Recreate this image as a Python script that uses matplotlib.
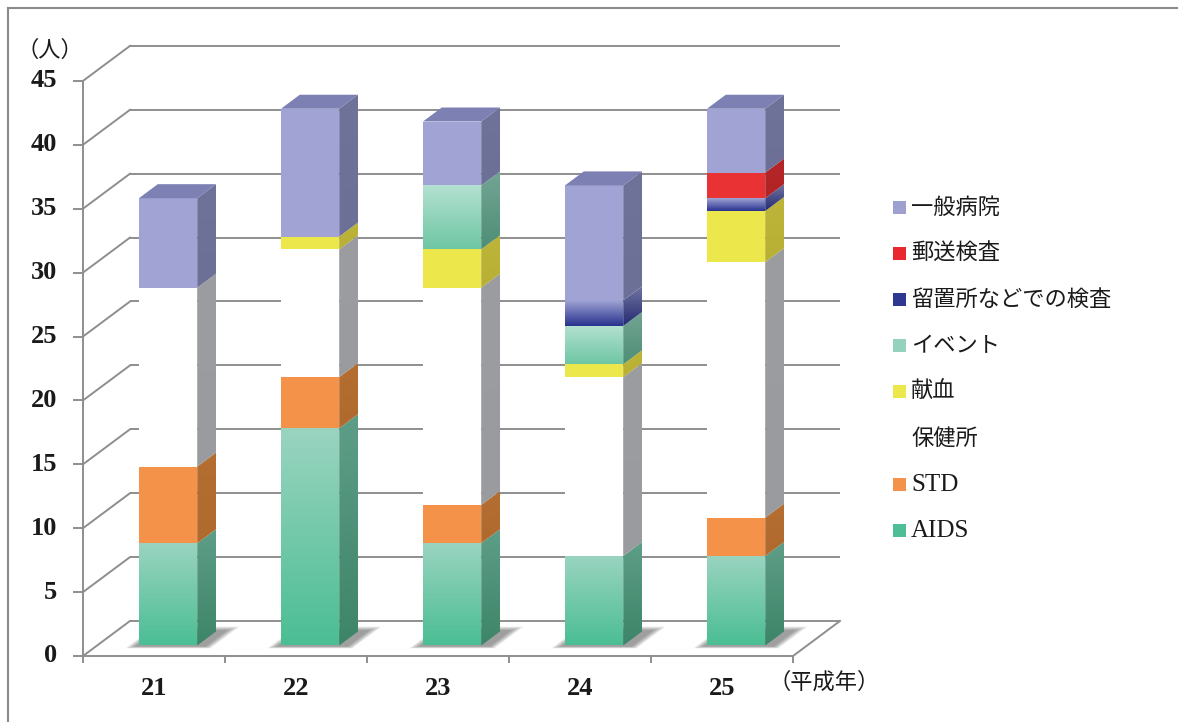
import numpy as np
import matplotlib
matplotlib.use("Agg")
import matplotlib.pyplot as plt
from matplotlib.patches import Polygon, Rectangle
from matplotlib.colors import to_rgb

# ---- data ---------------------------------------------------------------
years = ["21", "22", "23", "24", "25"]
aids = [8, 17, 8, 7, 7]
std = [6, 4, 3, 0, 3]
hokenjo = [14, 10, 17, 14, 20]
kenketsu = [0, 1, 3, 1, 4]
event = [0, 0, 5, 3, 0]
ryuchijo = [0, 0, 0, 2, 1]
yuso = [0, 0, 0, 0, 2]
ippan = [7, 10, 5, 9, 5]
y_ticks = [0, 5, 10, 15, 20, 25, 30, 35, 40, 45]

# stacking order, bottom to top
stack = [
    ("AIDS", aids),
    ("STD", std),
    ("保健所", hokenjo),
    ("献血", kenketsu),
    ("イベント", event),
    ("留置所などでの検査", ryuchijo),
    ("郵送検査", yuso),
    ("一般病院", ippan),
]

# face styles: (front top, front bottom, side top, side bottom, legend swatch)
style = {
    "AIDS": ("#9AD4C0", "#4BBE94", "#5E9E88", "#3D8568", "#4DBE95"),
    "STD": ("#F4924A", "#F4924A", "#B56E32", "#B06A2E", "#F4924A"),
    "保健所": ("#FFFFFF", "#FFFFFF", "#9C9DA0", "#9A9B9E", None),
    "献血": ("#ECE84C", "#ECE84C", "#BCB53A", "#B8B034", "#ECE84C"),
    "イベント": ("#B4E1D1", "#6EC6A4", "#73A594", "#4E8E76", "#94D2BE"),
    "留置所などでの検査": ("#A0A4D4", "#28328E", "#7174A2", "#232A70", "#2E3890"),
    "郵送検査": ("#E83234", "#E83234", "#B52628", "#B02426", "#E8282E"),
    "一般病院": ("#A0A3D3", "#A0A3D3", "#6F7299", "#6C6F96", "#9EA1D0"),
}
top_face = "#7C80B3"

# ---- oblique projection --------------------------------------------------
DXC = 0.331   # full depth, horizontal (category units)
DV = 2.74     # full depth, vertical (value units)
BAR_W = 0.41
D0, D1 = 0.30, 0.70


def proj(x, v, d):
    return (x + d * DXC, v + d * DV)


fig = plt.figure(figsize=(11.78, 7.22), dpi=100)
ax = fig.add_axes([0, 0, 1, 1])
ax.set_axis_off()

n = len(years)
xl, xr = -0.5, n - 0.5
GRID = "#8E8E8E"
LW = 1.4

# back wall grid lines and left wall diagonals
for v in y_ticks:
    p0, p1 = proj(xl, v, 1), proj(xr, v, 1)
    ax.plot([p0[0], p1[0]], [p0[1], p1[1]], color=GRID, lw=LW, zorder=1,
            solid_capstyle="butt")
    q0, q1 = proj(xl, v, 0), proj(xl, v, 1)
    ax.plot([q0[0], q1[0]], [q0[1], q1[1]], color=GRID, lw=LW, zorder=1)

# floor edges, front value axis
f0, f1 = proj(xl, 0, 0), proj(xr, 0, 0)
ax.plot([f0[0], f1[0]], [f0[1], f1[1]], color=GRID, lw=LW, zorder=1)
r1 = proj(xr, 0, 1)
ax.plot([f1[0], r1[0]], [f1[1], r1[1]], color=GRID, lw=LW, zorder=1)
ax.plot([xl, xl], [0, y_ticks[-1]], color=GRID, lw=LW, zorder=1)

tick_dx = 9 / 142
tick_dv = 6 / 12.78
for v in y_ticks:
    ax.plot([xl - tick_dx, xl], [v, v], color=GRID, lw=LW, zorder=1)
    ax.text(xl - 0.183, v, str(v), ha="right", va="center", fontsize=19,
            fontweight="bold", family="Liberation Serif", color="#1A1A1A")
for k in range(n + 1):
    ax.plot([xl + k, xl + k], [0, -tick_dv], color=GRID, lw=LW, zorder=1)
for i, yr in enumerate(years):
    ax.text(i, -2.58, yr, ha="center", va="center", fontsize=19,
            fontweight="bold", family="Liberation Serif", color="#1A1A1A")


def gradient_face(pts, c_top, c_bot, z):
    poly = Polygon(pts, closed=True, facecolor="none", edgecolor="none", zorder=z)
    ax.add_patch(poly)
    if c_top == c_bot:
        poly.set_facecolor(c_top)
        return
    xs = [p[0] for p in pts]
    ys = [p[1] for p in pts]
    t = np.linspace(0, 1, 64)[:, None]
    img = (1 - t) * np.array(to_rgb(c_bot)) + t * np.array(to_rgb(c_top))
    im = ax.imshow(img[:, None, :], extent=(min(xs), max(xs), min(ys), max(ys)),
                   origin="lower", aspect="auto", interpolation="bilinear",
                   zorder=z)
    im.set_clip_path(poly)


# bars
for i in range(n):
    z = 5 + i * 0.1
    xa, xb = i - BAR_W / 2, i + BAR_W / 2
    # soft floor shadow, cast mostly to the right
    for k in range(5):
        e = 0.012 * k
        sh = [proj(xa - 0.02 - e, 0, D0 - 0.03 - e),
              proj(xb + 0.07 + e, 0, D0 - 0.03 - e),
              proj(xb + 0.07 + e, 0, D1 + 0.04 + e * 2),
              proj(xa - 0.02 - e, 0, D1 + 0.04 + e * 2)]
        ax.add_patch(Polygon(sh, closed=True, facecolor="#3A3A3A",
                             edgecolor="none", alpha=0.12, zorder=z))
    base = 0
    segs = [(name, vals[i]) for name, vals in stack if vals[i] > 0]
    for name, h in segs:
        ft, fb, st, sb, _ = style[name]
        front = [proj(xa, base, D0), proj(xb, base, D0),
                 proj(xb, base + h, D0), proj(xa, base + h, D0)]
        side = [proj(xb, base, D0), proj(xb, base, D1),
                proj(xb, base + h, D1), proj(xb, base + h, D0)]
        gradient_face(front, ft, fb, z + 0.01)
        gradient_face(side, st, sb, z + 0.01)
        base += h
    top = [proj(xa, base, D0), proj(xb, base, D0),
           proj(xb, base, D1), proj(xa, base, D1)]
    ax.add_patch(Polygon(top, closed=True, facecolor=top_face,
                         edgecolor="none", zorder=z + 0.02))

ax.set_xlim(-0.5 - 83 / 142, -0.5 + (1178 - 83) / 142)
ax.set_ylim((656 - 722) / 12.78, 656 / 12.78)

# ---- overlay: legend, unit labels, frame ------------------------------------
lax = fig.add_axes([0, 0, 1, 1], facecolor="none")
lax.set_axis_off()
lax.set_xlim(0, 1178)
lax.set_ylim(722, 0)

cjk = ["Noto Sans CJK JP", "DejaVu Sans"]
legend_items = list(reversed(stack))
for k, (name, _) in enumerate(legend_items):
    yc = 207 + k * 46.2
    sw = style[name][4]
    if sw is not None:
        lax.add_patch(Rectangle((893, yc - 6.5), 13, 13, facecolor=sw,
                                edgecolor="none"))
    if name.isascii():
        lax.text(911, yc + 1, name, ha="left", va="center", fontsize=18,
                 family="Liberation Serif", color="#1A1A1A")
    else:
        lax.text(911, yc, name, ha="left", va="center", fontsize=16,
                 family=cjk, color="#1A1A1A")

lax.text(50, 50, "（人）", ha="center", va="center", fontsize=16, family=cjk,
         color="#1A1A1A")
lax.text(824, 682, "（平成年）", ha="center", va="center", fontsize=16,
         family=cjk, color="#1A1A1A")

lax.plot([8, 1178], [7.5, 7.5], color="#8A8A8A", lw=1.5)
lax.plot([8, 8], [7.5, 722], color="#8A8A8A", lw=1.5)

fig.savefig("out.png", dpi=100)
